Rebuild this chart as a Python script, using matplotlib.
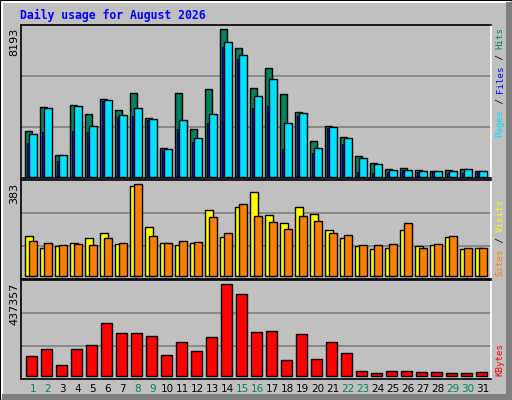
import matplotlib
matplotlib.use("Agg")
import matplotlib.pyplot as plt
from matplotlib.patches import Rectangle
import numpy as np

days = list(range(1, 32))
weekend = [1, 2, 8, 9, 15, 16, 22, 23, 29, 30]
hits = [2516, 3851, 1180, 3963, 3462, 4296, 3685, 4631, 3239, 1570, 4631, 2628, 4853, 8193, 7136, 4909,
        6022, 4575, 3574, 1959, 2795, 2182, 1141, 735, 400, 456, 345, 290, 345, 400, 290]
files = [2349, 3795, 1180, 3907, 2795, 4240, 3406, 3795, 3183, 1514, 3128, 2127, 3462, 7470, 6748, 4464,
         5410, 2962, 3518, 1570, 2740, 2127, 1013, 679, 345, 345, 290, 290, 290, 400, 290]
pages = [1849, 2461, 846, 2516, 2461, 4186, 3295, 3350, 3128, 1458, 2628, 1903, 2962, 7192, 6525, 3795,
         3907, 1514, 3350, 1291, 2684, 1792, 234, 178, 234, 345, 234, 234, 178, 178, 234]
sites = [167, 117, 125, 137, 158, 179, 133, 375, 204, 137, 129, 137, 275, 162, 287, 350,
         254, 221, 287, 258, 192, 158, 125, 112, 117, 192, 125, 129, 162, 112, 117]
visits = [146, 137, 129, 133, 129, 158, 137, 383, 167, 137, 146, 142, 246, 179, 300, 250,
          225, 196, 250, 229, 179, 171, 129, 129, 133, 221, 117, 133, 167, 117, 117]
kbytes = [94000, 126000, 50000, 126000, 145000, 251000, 203000, 203000, 188000, 98000, 160000, 117000,
          184000, 437357, 390000, 208000, 212000, 74000, 198000, 78000, 160000, 107000, 21000, 11500,
          21000, 21000, 16000, 16000, 11500, 11500, 16000]

W, H = 512, 400
BG = "#C0C0C0"
fig = plt.figure(figsize=(W/100, H/100), dpi=100, facecolor=BG)

def R(x, y, w, h, c):
    fig.patches.append(Rectangle((x/W, 1-(y+h)/H), w/W, h/H, transform=fig.transFigure,
                                 facecolor=c, edgecolor='none', zorder=-10))
R(0, 0, W, 1, "black"); R(0, 0, 1, H, "black")
R(1, 1, W-2, 2, "white"); R(1, 1, 2, H-2, "white")
R(W-6, 2, 6, H-2, "#808080"); R(2, H-6, W-2, 6, "#808080")

def panel(top, bottom, ymin, ymax):
    ax = fig.add_axes([20.7/W, 1-bottom/H, (490.7-20.7)/W, (bottom-top)/H])
    ax.set_zorder(5)
    ax.set_facecolor(BG)
    ax.set_xlim(0.2, 31.53)
    ax.set_ylim(ymin, ymax)
    for f in (1/3, 2/3):
        ax.plot([0, 1], [f, f], transform=ax.transAxes, color="#808080", lw=1.2, zorder=0.5)
    ax.set_xticks([]); ax.set_yticks([])
    for s in ax.spines.values():
        s.set_color("black"); s.set_linewidth(1.2)
    ax.spines['right'].set_color("white")
    return ax

d = np.array(days)
kw = dict(edgecolor="black", linewidth=1.0, align='edge')
ax1 = panel(25, 178.3, -100, 8432)
ax1.bar(d-0.51, hits, width=0.49, color="#00805C", **kw, zorder=2)
ax1.bar(d-0.23, files, width=0.5, color="#00E0FF", **kw, zorder=4)
ax1.bar(d-0.38, pages, width=0.15, color="#0000FF", edgecolor="black", linewidth=0.6, align='edge', zorder=3)

ax2 = panel(180, 279, -11, 401)
ax2.bar(d-0.51, sites, width=0.55, color="#FFFF00", **kw, zorder=2)
ax2.bar(d-0.25, visits, width=0.52, color="#FF8000", **kw, zorder=3)

ax3 = panel(280, 379, -15800, 457900)
ax3.bar(d-0.45, kbytes, width=0.72, color="#FF0000", **kw, zorder=2)

for day in days:
    fig.text((20.7 + (day-0.2)*15)/W, 1-389/H, str(day), ha='center', va='center',
             fontsize=7.5, color="#00805C" if day in weekend else "black", family="DejaVu Sans")

fig.text(20/W, 1-15/H, "Daily usage for August 2026", ha='left', va='center', color="#0000FF",
         fontsize=8.3, fontweight='bold', family="DejaVu Sans Mono")

for top, lab in [(28, "8193"), (183, "383"), (283, "437357")]:
    fig.text(14/W, 1-top/H, lab, rotation=90, ha='center', va='top', fontsize=8, family="DejaVu Sans")

FS = 6.6
def vlabel(bottom, parts):
    y = bottom
    cw = 0.6021*FS*100/72
    for txt, col in parts:
        fig.text(500/W, 1-y/H, txt, rotation=90, ha='center', va='bottom', color=col,
                 fontsize=FS, family="DejaVu Sans Mono")
        y -= cw*len(txt)

vlabel(137, [("Pages", "#00E0FF"), (" / ", "black"), ("Files", "#0000FF"), (" / ", "black"), ("Hits", "#00805C")])
vlabel(276, [("Sites", "#FF8000"), (" / ", "black"), ("Visits", "#FFFF00")])
vlabel(376, [("KBytes", "#FF0000")])

fig.savefig("out.png", dpi=100, facecolor=BG)
